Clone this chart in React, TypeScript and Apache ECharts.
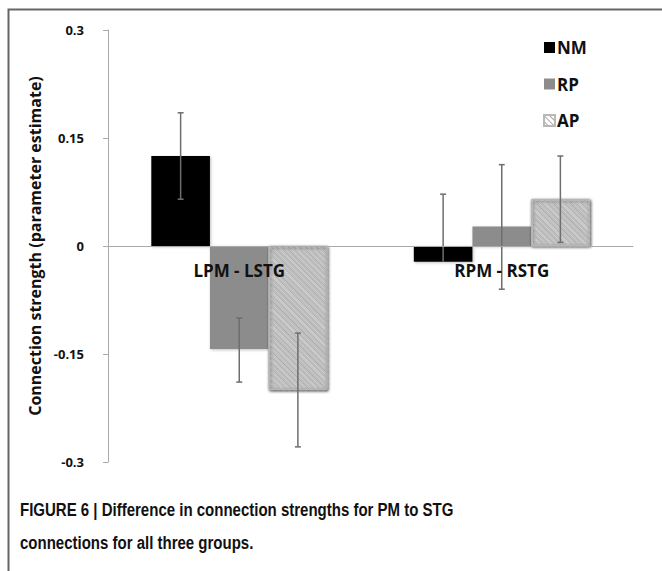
import React, { useEffect, useRef } from "react";
import * as echarts from "echarts";

const categories = ["LPM - LSTG", "RPM - RSTG"];
const seriesNames = ["NM", "RP", "AP"];
const nmValues = [0.125, -0.022];
const rpValues = [-0.143, 0.027];
const apValues = [-0.2, 0.065];
const nmLow = [0.065, -0.022];
const nmHigh = [0.185, 0.072];
const rpLow = [-0.189, -0.06];
const rpHigh = [-0.1, 0.113];
const apLow = [-0.279, 0.005];
const apHigh = [-0.121, 0.125];
const yTicks = [-0.3, -0.15, 0, 0.15, 0.3];
const captionLines = [
  "FIGURE 6 | Difference in connection strengths for PM to STG",
  "connections for all three groups.",
];

const FONT = "'Open Sans', 'DejaVu Sans', sans-serif";
const CAPTION_FONT = "'Liberation Sans', Arial, sans-serif";

export default function App() {
  const ref = useRef<HTMLDivElement>(null);
  useEffect(() => {
    if (!ref.current) return;
    const chart = echarts.init(ref.current, null, { renderer: "svg" });
    const values = [nmValues, rpValues, apValues];
    const lows = [nmLow, rpLow, apLow];
    const highs = [nmHigh, rpHigh, apHigh];
    const errData: number[][] = [];
    for (let s = 0; s < 3; s++) {
      for (let c = 0; c < categories.length; c++) {
        errData.push([c, s, lows[s][c], highs[s][c], values[s][c]]);
      }
    }
    const catGap = 0.33;
    const gridTop = 30;
    const gridBottom = 109;
    const plotH = 571 - gridTop - gridBottom;
    const zeroOffset = -plotH / 2;
    const barShadow = {
      shadowBlur: 3,
      shadowColor: "rgba(0,0,0,0.25)",
      shadowOffsetX: 1,
      shadowOffsetY: 1,
    };
    chart.setOption({
      animation: false,
      backgroundColor: "#ffffff",
      textStyle: { fontFamily: FONT },
      legend: {
        orient: "vertical",
        left: 538,
        top: 34,
        itemWidth: 11,
        itemHeight: 11,
        itemGap: 19.5,
        icon: "rect",
        data: seriesNames,
        textStyle: {
          fontFamily: FONT,
          fontWeight: "bold",
          fontSize: 17,
          color: "#111",
          padding: [0, 0, 0, -3],
        },
      },
      grid: { left: 108, right: 29, top: gridTop, bottom: gridBottom },
      xAxis: {
        type: "category",
        data: categories,
        z: 10,
        offset: zeroOffset,
        axisLine: { onZero: false, lineStyle: { color: "#aaaaaa", width: 1 } },
        axisTick: { show: false },
        axisLabel: {
          fontFamily: FONT,
          fontWeight: "bold",
          fontSize: 17,
          color: "#111",
          margin: 16,
        },
      },
      yAxis: {
        type: "value",
        min: -0.3,
        max: 0.3,
        interval: 0.15,
        name: "Connection strength (parameter estimate)",
        nameLocation: "middle",
        nameGap: 60,
        nameRotate: 90,
        nameTextStyle: {
          fontFamily: FONT,
          fontWeight: "bold",
          fontSize: 16,
          color: "#111",
        },
        axisLine: { show: true, lineStyle: { color: "#aaaaaa", width: 1 } },
        axisTick: { show: true, inside: false, length: 5, lineStyle: { color: "#aaaaaa" } },
        splitLine: { show: false },
        axisLabel: {
          fontFamily: FONT,
          fontWeight: "bold",
          fontSize: 13,
          color: "#111",
          margin: 24,
          formatter: (v: number) => {
            const m = yTicks.find((t) => Math.abs(t - v) < 1e-9);
            return String(m !== undefined ? m : v);
          },
        },
      },
      series: [
        {
          name: "NM",
          type: "bar",
          data: nmValues,
          barGap: "0%",
          barCategoryGap: catGap * 100 + "%",
          itemStyle: { color: "#000000", ...barShadow },
        },
        {
          name: "RP",
          type: "bar",
          data: rpValues,
          itemStyle: { color: "#8c8c8c", ...barShadow },
        },
        {
          name: "AP",
          type: "bar",
          data: apValues,
          itemStyle: {
            color: "#ffffff",
            borderColor: "#b8b8b8",
            borderWidth: 1,
            ...barShadow,
            decal: {
              symbol: "rect",
              dashArrayX: [1, 0],
              dashArrayY: [1, 2.5],
              rotation: Math.PI / 4,
              color: "#a8a8a8",
              symbolSize: 1,
            },
          },
        },
        {
          type: "custom",
          z: 5,
          data: errData,
          renderItem: (params: any, api: any) => {
            const c = api.value(0);
            const s = api.value(1);
            const low = api.value(2);
            const high = api.value(3);
            const val = api.value(4);
            const band = api.size([1, 0])[0];
            const barW = (band * (1 - catGap)) / 3;
            const base = api.coord([c, val]);
            const x = base[0] + (s - 1) * barW;
            const yLow = api.coord([c, low])[1];
            const yHigh = api.coord([c, high])[1];
            const style = { stroke: "#6e6e6e", lineWidth: 1.5 };
            const children: any[] = [
              { type: "line", shape: { x1: x, y1: yLow, x2: x, y2: yHigh }, style },
              { type: "line", shape: { x1: x - 3, y1: yHigh, x2: x + 3, y2: yHigh }, style },
            ];
            if (Math.abs(low - val) > 1e-9) {
              children.push({
                type: "line",
                shape: { x1: x - 3, y1: yLow, x2: x + 3, y2: yLow },
                style,
              });
            }
            return { type: "group", children };
          },
        },
      ],
      graphic: [
        {
          type: "polyline",
          shape: { points: [[8.5, 571], [8.5, 9.5], [662, 9.5]] },
          style: { stroke: "#666666", lineWidth: 2, fill: "none" },
          z: 100,
        },
        {
          type: "text",
          x: 20,
          y: 510,
          scaleX: 0.79,
          style: {
            text: captionLines[0],
            font: "bold 19px " + CAPTION_FONT,
            fill: "#111",
            verticalAlign: "middle",
          },
        },
        {
          type: "text",
          x: 20,
          y: 543,
          scaleX: 0.79,
          style: {
            text: captionLines[1],
            font: "bold 19px " + CAPTION_FONT,
            fill: "#111",
            verticalAlign: "middle",
          },
        },
      ],
    });
    return () => chart.dispose();
  }, []);
  return (
    <div
      ref={ref}
      style={{ position: "fixed", left: 0, top: 0, width: 662, height: 571, background: "#fff" }}
    />
  );
}
